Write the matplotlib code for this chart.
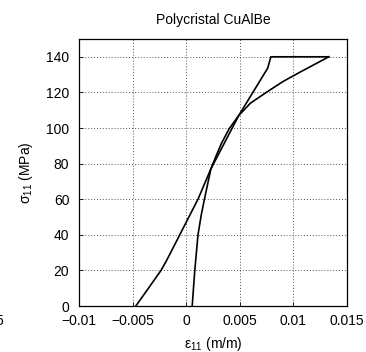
import matplotlib
matplotlib.use("Agg")
import matplotlib.pyplot as plt

plt.rcParams['font.family'] = ['Liberation Sans', 'DejaVu Sans']
plt.rcParams['mathtext.fontset'] = 'custom'
plt.rcParams['mathtext.rm'] = 'Liberation Sans'
plt.rcParams['mathtext.it'] = 'Liberation Sans'

# Curve 1 (steep start, kinked, plateau at 140)
strain_1 = [0.00056, 0.0008, 0.0011, 0.0014, 0.0017, 0.0023, 0.0049, 0.0076, 0.0079, 0.0133]
stress_1 = [0, 20, 40, 51, 60, 77, 107, 133.6, 140, 140]

# Curve 2 (smooth curve)
strain_2 = [-0.0047, -0.00352, -0.00235, -0.00188, -0.00145, -0.0006, 0.00025, 0.0011, 0.0023,
            0.0028, 0.0033, 0.004, 0.0049, 0.006, 0.0076, 0.009, 0.0105, 0.0133]
stress_2 = [0, 10, 20, 25, 30, 40, 50, 60, 77,
            84.5, 91.5, 99.5, 107, 114, 120.5, 126, 131, 140]

x_ticks = [-0.01, -0.005, 0, 0.005, 0.01, 0.015]
x_labels = ['\u22120.01', '\u22120.005', '0', '0.005', '0.01', '0.015']
y_ticks = [0, 20, 40, 60, 80, 100, 120, 140]

fig = plt.figure(figsize=(3.66, 3.52), dpi=100)
ax = fig.add_axes([79/366, 1-306/352, (347-79)/366, (306-39)/352])

ax.plot(strain_1, stress_1, color='black', lw=1.2)
ax.plot(strain_2, stress_2, color='black', lw=1.2)

ax.set_xlim(-0.01, 0.015)
ax.set_ylim(0, 150)
ax.set_xticks(x_ticks)
ax.set_xticklabels(x_labels)
ax.set_yticks(y_ticks)
ax.tick_params(direction='in', length=3, labelsize=10, width=0.6)
ax.tick_params(axis='y', pad=7)
ax.tick_params(axis='x', pad=6)
ax.grid(True, linestyle=(0, (1, 2)), color='#555555', linewidth=0.7)
for s in ax.spines.values():
    s.set_linewidth(0.9)

ax.set_title('Polycristal CuAlBe', fontsize=10, pad=11)
ax.set_xlabel('\u03b5$_{11}$ (m/m)', fontsize=10)
ax.set_ylabel('\u03c3$_{11}$ (MPa)', fontsize=10)
ax.xaxis.set_label_coords(0.5, -0.107)
ax.yaxis.set_label_coords(-0.165, 0.5)

fig.text(3.5/366, 1-321/352, '5', ha='right', va='center', fontsize=10)

fig.savefig('out.png', dpi=100)
